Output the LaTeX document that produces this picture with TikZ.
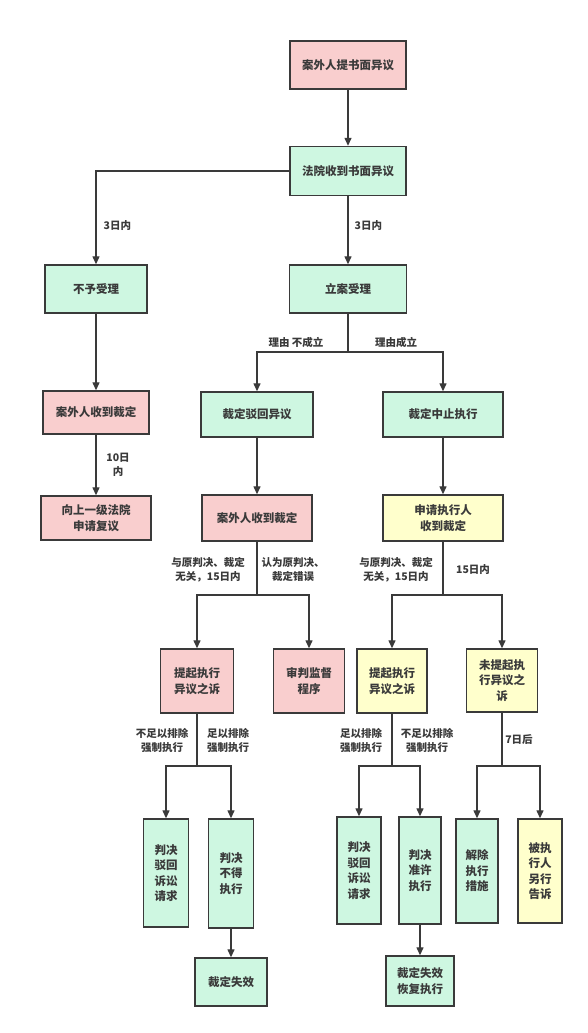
\documentclass[tikz,border=0pt]{standalone}
\usepackage{fontspec}
\usetikzlibrary{arrows.meta}
\newfontfamily\cjk{Noto Sans CJK SC}
\definecolor{pinkfill}{RGB}{249,206,206}
\definecolor{greenfill}{RGB}{206,247,225}
\definecolor{yellowfill}{RGB}{255,255,204}
\definecolor{inkgray}{RGB}{58,58,58}

\begin{document}
\begin{tikzpicture}[x=1pt, y=-1pt, >={Triangle[length=8pt, width=7pt]}, line width=1.3pt, color=inkgray]
  \tikzset{box/.style={rectangle, draw, line width=1.4pt, inner sep=0pt, align=center,
             font=\cjk\bfseries\fontsize{11.5}{15.5}\selectfont},
           sz/.style 2 args={minimum width=#1pt, minimum height=#2pt},
           pinkbox/.style={box, fill=pinkfill},
           greenbox/.style={box, fill=greenfill},
           yellowbox/.style={box, fill=yellowfill},
           lbl/.style={align=center, inner sep=0pt, font=\cjk\bfseries\fontsize{10.5}{14}\selectfont}};
  \useasboundingbox[fill=white] (0,0) rectangle (588,1033);

  % top
  \node[pinkbox, sz={116}{48}] (tishu) at (348,65) {案外人提书面异议};
  \node[greenbox, sz={116}{49}] (shoudao) at (348,171) {法院收到书面异议};
  \node[greenbox, sz={102}{48}] (buyu) at (96,289) {不予受理};
  \node[greenbox, sz={117}{48}] (lian) at (348,289) {立案受理};
  \draw[->] (tishu) -- (shoudao);
  \draw[->] (shoudao.west) -| (buyu);
  \draw[->] (shoudao) -- (lian);
  \node[lbl, anchor=west] (sanriL) at (103,226) {3日内};
  \node[lbl, anchor=west] (sanriR) at (354,226) {3日内};

  % second row
  \node[pinkbox, sz={106}{43}] (shouL) at (96,412.5) {案外人收到裁定};
  \node[greenbox, sz={112}{45}] (bohui) at (257,414.5) {裁定驳回异议};
  \node[greenbox, sz={120}{45}] (zhongzhi) at (443,414.5) {裁定中止执行};
  \draw[->] (buyu) -- (shouL);
  \draw (lian) -- (348,352) coordinate (lianfen);
  \draw[->] (lianfen) -| (bohui);
  \draw[->] (lianfen) -| (zhongzhi);
  \node[lbl] (bucheng) at (296,342) {理由 不成立};
  \node[lbl] (chengli) at (396,342) {理由成立};

  % third row
  \node[pinkbox, sz={110}{44}] (fuyi) at (96,518) {向上一级法院\\申请复议};
  \node[pinkbox, sz={110}{46}] (shouM) at (257,518) {案外人收到裁定};
  \node[yellowbox, sz={120}{46}] (shenqing) at (443,518) {申请执行人\\收到裁定};
  \draw[->] (shouL) -- (fuyi);
  \draw[->] (bohui) -- (shouM);
  \draw[->] (zhongzhi) -- (shenqing);
  \node[lbl] (shiri) at (118,464.5) {10日\\内};

  % fourth row
  \node[pinkbox, sz={73}{64}] (tiqiP) at (197,681) {提起执行\\异议之诉};
  \node[pinkbox, sz={71}{64}] (shenpan) at (309,681) {审判监督\\程序};
  \node[yellowbox, sz={70}{64}] (tiqiY) at (392,681) {提起执行\\异议之诉};
  \node[yellowbox, sz={71}{63}] (weitiqi) at (502,680.5) {未提起执\\行异议之\\诉};
  \draw (shouM) -- (257,595) coordinate (shouMfen);
  \draw[->] (shouMfen) -| (tiqiP);
  \draw[->] (shouMfen) -| (shenpan);
  \draw (shenqing) -- (443,595) coordinate (shenqingfen);
  \draw[->] (shenqingfen) -| (tiqiY);
  \draw[->] (shenqingfen) -| (weitiqi);
  \node[lbl] (wuguanM) at (208,570) {与原判决、裁定\\无关，15日内};
  \node[lbl] (cuowu) at (293,570) {认为原判决、\\裁定错误};
  \node[lbl] (wuguanR) at (396,570) {与原判决、裁定\\无关，15日内};
  \node[lbl] (shiwuri) at (473,570) {15日内};

  % fifth row
  \node[greenbox, sz={45}{108}] (bohuiL) at (166,873) {判决\\驳回\\诉讼\\请求};
  \node[greenbox, sz={45}{109}] (budeL) at (231,873.5) {判决\\不得\\执行};
  \node[greenbox, sz={44}{107}] (bohuiR) at (359,870.5) {判决\\驳回\\诉讼\\请求};
  \node[greenbox, sz={42}{107}] (zhunxu) at (420,870.5) {判决\\准许\\执行};
  \node[greenbox, sz={42}{104}] (jiechu) at (477,871) {解除\\执行\\措施};
  \node[yellowbox, sz={44}{104}] (lingxing) at (540,871) {被执\\行人\\另行\\告诉};
  \draw (tiqiP) -- (197,766) coordinate (tiqiPfen);
  \draw[->] (tiqiPfen) -| (bohuiL);
  \draw[->] (tiqiPfen) -| (budeL);
  \draw (tiqiY) -- (392,766) coordinate (tiqiYfen);
  \draw[->] (tiqiYfen) -| (bohuiR);
  \draw[->] (tiqiYfen) -| (zhunxu);
  \draw (weitiqi) -- (502,766) coordinate (weitiqifen);
  \draw[->] (weitiqifen) -| (jiechu);
  \draw[->] (weitiqifen) -| (lingxing);
  \node[lbl] (buzuP) at (162,740) {不足以排除\\强制执行};
  \node[lbl] (zuP) at (228,740) {足以排除\\强制执行};
  \node[lbl] (zuY) at (361,740) {足以排除\\强制执行};
  \node[lbl] (buzuY) at (427,740) {不足以排除\\强制执行};
  \node[lbl] (qiri) at (519,740) {7日后};

  % bottom
  \node[greenbox, sz={72}{48}] (shixiaoL) at (231,982) {裁定失效};
  \node[greenbox, sz={68}{50}] (huifu) at (420,981) {裁定失效\\恢复执行};
  \draw[->] (budeL) -- (shixiaoL);
  \draw[->] (zhunxu) -- (huifu);
\end{tikzpicture}
\end{document}
